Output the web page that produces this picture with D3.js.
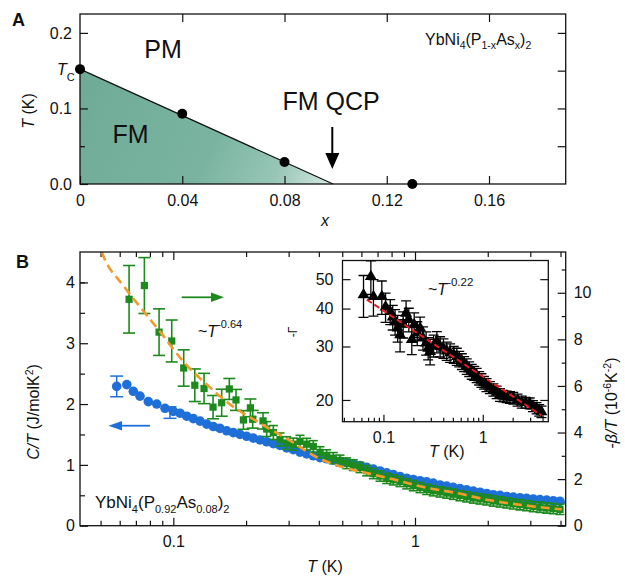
<!DOCTYPE html>
<html><head><meta charset="utf-8">
<script src="https://cdn.jsdelivr.net/npm/d3@7"></script>
<style>
body{margin:0;background:#fff}
text{font-family:"Liberation Sans",Arial,Helvetica,sans-serif;fill:#111}
</style>
</head><body>
<svg id="chart" width="625" height="576"></svg>
<script>
// ---------- Panel A data ----------
const phaseX = [0, 0.04, 0.08, 0.13];
const phaseTc = [0.152, 0.093, 0.029, 0];
const boundaryX = [0, 0.099];
const boundaryTc = [0.152, 0];
const aXTicks = [0, 0.04, 0.08, 0.12, 0.16];
const aXTickLabels = ["0", "0.04", "0.08", "0.12", "0.16"];
const aYTicks = [0, 0.1, 0.2];
const aYTickLabels = ["0.0", "0.1", "0.2"];
const aYMinor = [0.05, 0.15];
const aRightTicks = [0.05, 0.1, 0.15, 0.2];

// ---------- Panel B data ----------
// C/T (left axis), blue circles
const blueT = [0.0583,0.0642,0.0683,0.0728,0.0788,0.0854,0.0924,0.100,0.1066,0.1136,
  0.121,0.129,0.1375,0.1464,0.156,0.1663,0.1771,0.1888,0.2012,0.2143,
  0.2284,0.2434,0.2593,0.2763,0.2945,0.3136,0.3343,0.3563,0.3795,0.4045,
  0.4311,0.4592,0.4894,0.5216,0.5556,0.5922,0.6312,0.6723,0.7166,0.7637,
  0.8132,0.8667,0.924,0.984,1.049,1.118,1.19,1.269,1.353,1.44,
  1.535,1.636,1.743,1.858,1.98,2.109,2.248,2.396,2.551,2.719,
  2.898,3.086,3.29,3.507,3.735,3.981];
const blueC = [2.29,2.32,2.21,2.13,2.04,2.00,1.93,1.88,1.85,1.80,
  1.76,1.72,1.67,1.63,1.60,1.56,1.53,1.50,1.47,1.44,
  1.41,1.38,1.35,1.32,1.28,1.25,1.21,1.18,1.15,1.12,
  1.10,1.08,1.06,1.04,1.02,0.99,0.96,0.93,0.90,0.87,
  0.84,0.81,0.78,0.76,0.74,0.72,0.70,0.67,0.65,0.63,
  0.61,0.59,0.57,0.55,0.53,0.51,0.50,0.48,0.47,0.46,
  0.45,0.44,0.43,0.42,0.41,0.40];
const blueErrT = [0.0583, 0.0969];
const blueErrC = [2.29, 1.86];
const blueErrE = [0.17, 0.095];

// -beta/T (right axis), green squares
const greenT = [0.0656,0.0759,0.0873,0.0985,0.1104,0.1227,0.134,0.146,0.1585,0.1705,
  0.1817,0.195,0.2084,0.213,0.235,
  0.2434,0.2593,0.2763,0.2945,0.3136,0.3343,0.3563,0.3795,0.4045,0.4311,
  0.4592,0.4894,0.5216,0.5556,0.5922,0.6312,0.6723,0.7166,0.7637,0.8132,
  0.8667,0.924,0.984,1.049,1.118,1.19,1.269,1.353,1.44,1.535,
  1.636,1.743,1.858,1.98,2.109,2.248,2.396,2.551,2.719,2.898,
  3.086,3.29,3.507,3.735,3.981];
const greenV = [9.72,10.31,8.31,7.93,6.77,6.03,5.89,5.09,5.28,5.87,
  5.40,4.54,5.06,4.57,4.50,
  4.15,4.00,3.70,3.55,3.50,3.62,3.50,3.40,3.15,3.02,
  2.90,2.80,2.68,2.60,2.50,2.36,2.24,2.13,2.03,1.97,
  1.90,1.80,1.72,1.64,1.56,1.50,1.45,1.40,1.35,1.29,
  1.24,1.19,1.15,1.11,1.06,1.02,0.98,0.94,0.90,0.86,
  0.82,0.79,0.76,0.73,0.70];
const greenE = [1.45,1.2,1.0,0.9,0.78,0.7,0.65,0.5,0.58,0.45,
  0.45,0.4,0.38,0.38,0.35,
  0.32,0.3,0.28,0.27,0.26,0.26,0.25,0.25,0.24,0.24,
  0.24,0.23,0.23,0.23,0.22,0.22,0.22,0.22,0.22,0.22,
  0.22,0.22,0.22,0.22,0.22,0.22,0.22,0.22,0.22,0.22,
  0.22,0.22,0.22,0.22,0.22,0.22,0.22,0.22,0.22,0.22,
  0.22,0.22,0.22,0.22,0.22];

// ~T^-0.64 guide (orange dashed)
const fitT = [0.0506,0.0513,0.0621,0.0776,0.0881,0.110,0.1375,0.1716,0.2321,0.304,
  0.392,0.5051,0.6515,0.8132,1.082,1.488,2.043,2.806,4.046];
const fitV = [11.75,11.59,10.31,9.04,8.33,7.05,6.06,5.21,4.36,3.65,
  2.94,2.51,2.23,1.99,1.66,1.40,1.09,0.88,0.70];

const bLeftMajor = [0,1,2,3,4];
const bLeftMajorLabels = ["0","1","2","3","4"];
const bLeftMinor = [0.5,1.5,2.5,3.5,4.0];
const bRightMajor = [0,2,4,6,8,10];
const bRightMajorLabels = ["0","2","4","6","8","10"];
const bRightMinor = [1,3,5,7,9,11];
const bXMajor = [0.1, 1];
const bXMajorLabels = ["0.1", "1"];
const bXMinor = [0.05,0.06,0.07,0.08,0.09,0.2,0.3,0.4,0.5,0.6,0.7,0.8,0.9,2,3,4];

// ---------- Inset data ----------
const insetT = [0.063,0.0747,0.0793,0.0963,0.105,0.117,0.124,0.131,0.139,0.147,
  0.158,0.169,0.18,0.193,0.204,0.219,0.234,0.25,0.269,0.282,
  0.295,0.32,0.345,0.372,0.402,0.434,0.469,0.51,0.548,0.58,
  0.616,0.65,0.69,0.73,0.775,0.82,0.868,0.92,0.97,1.03,
  1.09,1.18,1.28,1.38,1.49,1.61,1.74,1.88,2.03,2.24,
  2.47,2.7,2.97,3.2,3.48,3.7,3.9];
const insetG = [44.4,51.0,43.8,43.8,40.5,39.1,37.5,36.2,34.5,32.8,
  35.5,38.6,36.8,31.6,35.4,33.2,34.5,32.0,30.8,29.6,
  28.9,30.2,31.1,30.0,29.6,29.0,28.6,28.2,27.8,27.3,
  26.8,26.3,25.8,25.3,24.8,24.5,24.1,23.6,23.2,22.8,
  22.4,22.0,21.6,21.2,20.8,20.6,20.5,20.4,20.3,20.0,
  19.7,19.6,19.5,19.1,18.8,18.5,18.3];
const insetE = [7,6.5,6,5.5,4.5,3.7,3.5,3.5,3.5,4,
  3.5,3.8,3.3,3.4,3.3,3,3,2.8,2.7,2.5,
  2.8,2.5,2.5,2.3,2.2,2,2,1.8,1.8,1.6,
  1.6,1.5,1.5,1.4,1.4,1.3,1.3,1.2,1.2,1.1,
  1.1,1,1,1,1,0.9,0.9,0.9,0.9,0.9,
  0.9,0.8,0.8,0.8,0.8,0.8,0.8];
const insetFitT = [0.068, 3.9];
const insetFitG = [42.8, 17.8];
const inYTicks = [20,30,40,50];
const inYTickLabels = ["20","30","40","50"];
const inXMajor = [0.1, 1];
const inXMajorLabels = ["0.1","1"];
const inXMinor = [0.04,0.05,0.06,0.07,0.08,0.09,0.2,0.3,0.4,0.5,0.6,0.7,0.8,0.9,2,3,4];

// ---------- colours ----------
const BLUE = "#1f6fd8", GREEN = "#1c8a1c", ORANGE = "#f39a2c", RED = "#e31d25";

const svg = d3.select("#chart");
const defs = svg.append("defs");

function rich(g, x, y, parts, o) {
  const t = g.append("text").attr("x", x).attr("y", y).attr("font-size", o.size);
  if (o.anchor) t.attr("text-anchor", o.anchor);
  if (o.transform) t.attr("transform", o.transform);
  let cur = 0;
  parts.forEach(p => {
    const sh = p[1] === "sub" ? o.sub : p[1] === "sup" ? -o.sup : 0;
    const ts = t.append("tspan").text(p[0]).attr("dy", sh - cur);
    if (p[1]) ts.attr("font-size", o.small);
    if (p[2]) ts.attr("font-style", "italic");
    cur = sh;
  });
  return t;
}
function styleAxis(g) {
  g.select(".domain").remove();
  g.selectAll(".tick line").attr("stroke", "#111").attr("stroke-width", 1.2);
  g.selectAll(".tick text").attr("font-size", 16).attr("fill", "#111")
    .attr("font-family", '"Liberation Sans",Arial,sans-serif');
  return g;
}
function labelFmt(vals, labels) { return d => labels[vals.indexOf(d)]; }

// ================= PANEL A =================
const xA = d3.scaleLinear().domain([0, 0.19]).range([80, 565.7]);
const yA = d3.scaleLinear().domain([0, 0.225]).range([184, 14]);
const gA = svg.append("g");

const grad = defs.append("linearGradient").attr("id", "fmGrad")
  .attr("gradientUnits", "userSpaceOnUse")
  .attr("x1", xA(0)).attr("y1", yA(0.15)).attr("x2", xA(0.099)).attr("y2", yA(0));
[[0, "#6eab96"], [0.55, "#7ab4a1"], [0.8, "#98c6b6"], [1, "#d6eae2"]]
  .forEach(s => grad.append("stop").attr("offset", s[0]).attr("stop-color", s[1]));

const fmPoly = [[boundaryX[0], 0]].concat(boundaryX.map((d, i) => [d, boundaryTc[i]]));
gA.append("path")
  .attr("d", d3.line().x(d => xA(d[0])).y(d => yA(d[1]))(fmPoly) + "Z")
  .attr("fill", "url(#fmGrad)");
gA.append("path")
  .attr("d", d3.line().x((d, i) => xA(d)).y((d, i) => yA(boundaryTc[i]))(boundaryX))
  .attr("stroke", "#111").attr("stroke-width", 1.2).attr("fill", "none");

styleAxis(gA.append("g").attr("transform", "translate(80,0)")
  .call(d3.axisLeft(yA).tickValues(aYTicks).tickFormat(labelFmt(aYTicks, aYTickLabels)).tickSize(-8).tickPadding(8)));
styleAxis(gA.append("g").attr("transform", "translate(80,0)")
  .call(d3.axisLeft(yA).tickValues(aYMinor).tickFormat("").tickSize(-5)));
styleAxis(gA.append("g").attr("transform", "translate(565.7,0)")
  .call(d3.axisRight(yA).tickValues(aRightTicks).tickFormat("").tickSize(-8)));
styleAxis(gA.append("g").attr("transform", "translate(0,184)")
  .call(d3.axisBottom(xA).tickValues(aXTicks).tickFormat(labelFmt(aXTicks, aXTickLabels)).tickSize(-8).tickPadding(11)));
styleAxis(gA.append("g").attr("transform", "translate(0,14)")
  .call(d3.axisTop(xA).tickValues(aXTicks.slice(1)).tickFormat("").tickSize(-8)));

gA.append("rect").attr("x", 80).attr("y", 14).attr("width", 485.7).attr("height", 170)
  .attr("fill", "none").attr("stroke", "#111").attr("stroke-width", 1.3);

gA.selectAll("circle.ph").data(phaseX).join("circle").attr("class", "ph")
  .attr("cx", d => xA(d)).attr("cy", (d, i) => yA(phaseTc[i])).attr("r", 5).attr("fill", "#000");

// arrow FM QCP
gA.append("line").attr("x1", 332.3).attr("x2", 332.3).attr("y1", 127).attr("y2", 156)
  .attr("stroke", "#000").attr("stroke-width", 2);
gA.append("path").attr("d", "M325.3,153 L339.3,153 L332.3,169 Z").attr("fill", "#000");

gA.append("text").attr("x", 163).attr("y", 58).attr("text-anchor", "middle").attr("font-size", 25).text("PM");
gA.append("text").attr("x", 130.5).attr("y", 143).attr("text-anchor", "middle").attr("font-size", 25).text("FM");
gA.append("text").attr("x", 331).attr("y", 110).attr("text-anchor", "middle").attr("font-size", 25).text("FM QCP");
rich(gA, 425, 44.5, [["YbNi"], ["4", "sub"], ["(P"], ["1-x", "sub"], ["As"], ["x", "sub"], [")"], ["2", "sub"]],
  { size: 16, small: 10.5, sub: 4, sup: 0 });
rich(gA, 57, 75, [["T", null, true], ["C", "sub"]], { size: 16, small: 11, sub: 6, sup: 0 });
rich(gA, 0, 0, [["T", null, true], [" (K)"]], { size: 16, anchor: "middle", transform: "translate(34,111) rotate(-90)" });
gA.append("text").attr("x", 325).attr("y", 226).attr("text-anchor", "middle")
  .attr("font-size", 16).attr("font-style", "italic").text("x");
svg.append("text").attr("x", 12).attr("y", 26).attr("font-size", 18).attr("font-weight", "bold").text("A");

// ================= PANEL B =================
const xB = d3.scaleLog().domain([0.0411, 4.203]).range([80, 565.7]);
const yBL = d3.scaleLinear().domain([0, 4.5]).range([525.7, 252]);
const yBR = d3.scaleLinear().domain([0, 11.75]).range([525.7, 252]);
const gB = svg.append("g");

defs.append("clipPath").attr("id", "clipB").append("rect")
  .attr("x", 80).attr("y", 252).attr("width", 485.7).attr("height", 273.7);

styleAxis(gB.append("g").attr("transform", "translate(80,0)")
  .call(d3.axisLeft(yBL).tickValues(bLeftMajor).tickFormat(labelFmt(bLeftMajor, bLeftMajorLabels)).tickSize(-8).tickPadding(5)));
styleAxis(gB.append("g").attr("transform", "translate(80,0)")
  .call(d3.axisLeft(yBL).tickValues(bLeftMinor).tickFormat("").tickSize(-5)));
styleAxis(gB.append("g").attr("transform", "translate(565.7,0)")
  .call(d3.axisRight(yBR).tickValues(bRightMajor).tickFormat(labelFmt(bRightMajor, bRightMajorLabels)).tickSize(-8).tickPadding(8)));
styleAxis(gB.append("g").attr("transform", "translate(565.7,0)")
  .call(d3.axisRight(yBR).tickValues(bRightMinor).tickFormat("").tickSize(-4)));
styleAxis(gB.append("g").attr("transform", "translate(0,525.7)")
  .call(d3.axisBottom(xB).tickValues(bXMajor).tickFormat(labelFmt(bXMajor, bXMajorLabels)).tickSize(-8).tickPadding(10)));
styleAxis(gB.append("g").attr("transform", "translate(0,525.7)")
  .call(d3.axisBottom(xB).tickValues(bXMinor).tickFormat("").tickSize(-5)));
styleAxis(gB.append("g").attr("transform", "translate(0,252)")
  .call(d3.axisTop(xB).tickValues(bXMajor).tickFormat("").tickSize(-8)));
styleAxis(gB.append("g").attr("transform", "translate(0,252)")
  .call(d3.axisTop(xB).tickValues(bXMinor).tickFormat("").tickSize(-5)));

const dataB = gB.append("g").attr("clip-path", "url(#clipB)");
// blue circles
dataB.selectAll("circle.bl").data(blueT).join("circle").attr("class", "bl")
  .attr("cx", d => xB(d)).attr("cy", (d, i) => yBL(blueC[i])).attr("r", 4.8).attr("fill", BLUE);
// green error bars + squares
const gEb = dataB.append("g").attr("stroke", GREEN).attr("stroke-width", 1.6);
greenT.forEach((t, i) => {
  const x = xB(t), y1 = yBR(greenV[i] + greenE[i]), y2 = yBR(greenV[i] - greenE[i]);
  const cw = t < 0.24 ? 6 : 4.5;
  gEb.append("line").attr("x1", x).attr("x2", x).attr("y1", y1).attr("y2", y2);
  gEb.append("line").attr("x1", x - cw).attr("x2", x + cw).attr("y1", y1).attr("y2", y1);
  gEb.append("line").attr("x1", x - cw).attr("x2", x + cw).attr("y1", y2).attr("y2", y2);
});
dataB.selectAll("rect.gr").data(greenT).join("rect").attr("class", "gr")
  .attr("x", d => xB(d) - 3.6).attr("y", (d, i) => yBR(greenV[i]) - 3.6)
  .attr("width", 7.2).attr("height", 7.2).attr("fill", GREEN);
// orange dashed guide
dataB.append("path")
  .attr("d", d3.line().x(d => xB(d)).y((d, i) => yBR(fitV[i])).curve(d3.curveMonotoneX)(fitT))
  .attr("fill", "none").attr("stroke", ORANGE).attr("stroke-width", 2.6).attr("stroke-dasharray", "9,5");
// blue error bars
const bEb = gB.append("g").attr("stroke", BLUE).attr("stroke-width", 1.5);
blueErrT.forEach((t, i) => {
  const x = xB(t), y1 = yBL(blueErrC[i] + blueErrE[i]), y2 = yBL(blueErrC[i] - blueErrE[i]);
  bEb.append("line").attr("x1", x).attr("x2", x).attr("y1", y1).attr("y2", y2);
  bEb.append("line").attr("x1", x - 6.5).attr("x2", x + 6.5).attr("y1", y1).attr("y2", y1);
  bEb.append("line").attr("x1", x - 6.5).attr("x2", x + 6.5).attr("y1", y2).attr("y2", y2);
});

gB.append("rect").attr("x", 80).attr("y", 252).attr("width", 485.7).attr("height", 273.7)
  .attr("fill", "none").attr("stroke", "#111").attr("stroke-width", 1.3);

// arrows
gB.append("line").attr("x1", 181.7).attr("x2", 213).attr("y1", 297.3).attr("y2", 297.3)
  .attr("stroke", GREEN).attr("stroke-width", 1.8);
gB.append("path").attr("d", "M211,292.5 L224,297.3 L211,302.1 Z").attr("fill", GREEN);
gB.append("line").attr("x1", 150).attr("x2", 120).attr("y1", 425.7).attr("y2", 425.7)
  .attr("stroke", BLUE).attr("stroke-width", 1.8);
gB.append("path").attr("d", "M122,420.9 L108.5,425.7 L122,430.5 Z").attr("fill", BLUE);

rich(gB, 198, 337, [["~"], ["T", null, true], ["-0.64", "sup"]], { size: 16, small: 11, sub: 0, sup: 9 });
rich(gB, 95, 508.3, [["YbNi"], ["4", "sub"], ["(P"], ["0.92", "sub"], ["As"], ["0.08", "sub"], [")"], ["2", "sub"]],
  { size: 17, small: 11, sub: 4.5, sup: 0 });
rich(gB, 0, 0, [["C/T", null, true], [" (J/molK"], ["2", "sup"], [")"]],
  { size: 16, small: 10.5, sub: 0, sup: 6, anchor: "middle", transform: "translate(39,412) rotate(-90)" });
rich(gB, 0, 0, [["-"], ["β/T", null, true], [" (10"], ["-6", "sup"], ["K"], ["-2", "sup"], [")"]],
  { size: 16, small: 10.5, sub: 0, sup: 6, anchor: "middle", transform: "translate(617,403) rotate(-90)" });
rich(gB, 325, 572, [["T", null, true], [" (K)"]], { size: 16, anchor: "middle" });
svg.append("text").attr("x", 16).attr("y", 268).attr("font-size", 18).attr("font-weight", "bold").text("B");

// ================= INSET =================
const xI = d3.scaleLog().domain([0.0387, 4.57]).range([342.5, 548.3]);
const yI = d3.scaleLog().domain([16.96, 57.6]).range([421.7, 260.5]);
const gI = svg.append("g");
gI.append("rect").attr("x", 342.5).attr("y", 260.5).attr("width", 205.8).attr("height", 161.2).attr("fill", "#fff");
defs.append("clipPath").attr("id", "clipI").append("rect")
  .attr("x", 342.5).attr("y", 260.5).attr("width", 205.8).attr("height", 161.2);

styleAxis(gI.append("g").attr("transform", "translate(342.5,0)")
  .call(d3.axisLeft(yI).tickValues(inYTicks).tickFormat(labelFmt(inYTicks, inYTickLabels)).tickSize(-8).tickPadding(9)));
styleAxis(gI.append("g").attr("transform", "translate(548.3,0)")
  .call(d3.axisRight(yI).tickValues(inYTicks).tickFormat("").tickSize(-8)));
styleAxis(gI.append("g").attr("transform", "translate(0,421.7)")
  .call(d3.axisBottom(xI).tickValues(inXMajor).tickFormat(labelFmt(inXMajor, inXMajorLabels)).tickSize(-7).tickPadding(10)));
styleAxis(gI.append("g").attr("transform", "translate(0,421.7)")
  .call(d3.axisBottom(xI).tickValues(inXMinor).tickFormat("").tickSize(-4)));

const dataI = gI.append("g").attr("clip-path", "url(#clipI)");
const iEb = dataI.append("g").attr("stroke", "#000").attr("stroke-width", 1.3);
insetT.forEach((t, i) => {
  const x = xI(t), y1 = yI(insetG[i] + insetE[i]), y2 = yI(insetG[i] - insetE[i]);
  iEb.append("line").attr("x1", x).attr("x2", x).attr("y1", y1).attr("y2", y2);
  iEb.append("line").attr("x1", x - 5).attr("x2", x + 5).attr("y1", y1).attr("y2", y1);
  iEb.append("line").attr("x1", x - 5).attr("x2", x + 5).attr("y1", y2).attr("y2", y2);
});
const tri = d3.symbol().type(d3.symbolTriangle).size(62);
dataI.selectAll("path.tr").data(insetT).join("path").attr("class", "tr")
  .attr("d", tri).attr("transform", (d, i) => `translate(${xI(d)},${yI(insetG[i])})`).attr("fill", "#000");
dataI.append("path")
  .attr("d", d3.line().x(d => xI(d)).y((d, i) => yI(insetFitG[i]))(insetFitT))
  .attr("stroke", RED).attr("stroke-width", 2).attr("stroke-dasharray", "6,3").attr("fill", "none");

gI.append("rect").attr("x", 342.5).attr("y", 260.5).attr("width", 205.8).attr("height", 161.2)
  .attr("fill", "none").attr("stroke", "#111").attr("stroke-width", 1.3);

rich(gI, 428, 295, [["~"], ["T", null, true], ["-0.22", "sup"]], { size: 16, small: 11.5, sub: 0, sup: 9 });
rich(gI, 446.7, 457, [["T", null, true], [" (K)"]], { size: 16, anchor: "middle" });
gI.append("text").attr("transform", "translate(297,332) rotate(-90)").attr("text-anchor", "middle")
  .attr("font-size", 12).text("-Γ");
</script>
</body></html>
